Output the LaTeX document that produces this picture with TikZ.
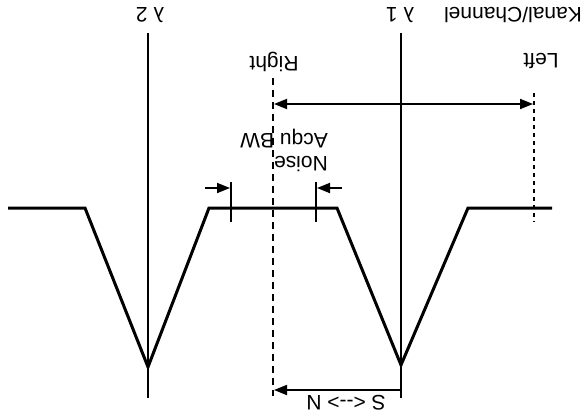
\documentclass[tikz,border=0pt]{standalone}
\usepackage{fontspec}
\setmainfont{Liberation Sans}
\usetikzlibrary{arrows.meta}

\begin{document}
\begin{tikzpicture}[
  x=1pt, y=-1pt,
  font=\fontsize{21}{23}\selectfont,
  lbl/.style={rotate=180, inner sep=0pt},
  wave/.style={draw=black, line width=3pt, line join=miter},
  lambda/.style={draw=black, line width=1.3pt},
  rightcut/.style={draw=black, line width=2.6pt, dash pattern=on 7pt off 5pt},
  leftcut/.style={draw=black, line width=1.5pt, dash pattern=on 4pt off 4pt},
  tick/.style={draw=black, line width=1.7pt},
  arr/.style={draw=black, line width=1.8pt, -{Triangle[length=13pt, width=10pt]}},
  darr/.style={arr, {Triangle[length=13pt, width=10pt]}-{Triangle[length=13pt, width=10pt]}}
]
\useasboundingbox (0,0) rectangle (585,415);

% lambda lines
\coordinate (l2top) at (148,33);
\coordinate (l2bot) at (148,398);
\coordinate (l1top) at (401,33);
\coordinate (l1bot) at (401,398);
\draw[lambda] (l2top) -- (l2bot);
\draw[lambda] (l1top) -- (l1bot);

% channel edges
\coordinate (rtop) at (273,78);
\coordinate (rbot) at (273,396);
\coordinate (ltop) at (534,93);
\coordinate (lbot) at (534,222);
\draw[rightcut] (rtop) -- (rbot);
\draw[leftcut] (ltop) -- (lbot);

% filter curve
\draw[wave] (8,208) -- (85,208) -- (148,367) -- (209,208) -- (337,208)
  -- (401,365) -- (468,208) -- (552,208);

% noise bandwidth marks
\coordinate (t1top) at (231,182);
\coordinate (t1bot) at (231,222);
\coordinate (t2top) at (316,182);
\coordinate (t2bot) at (316,222);
\draw[tick] (t1top) -- (t1bot);
\draw[tick] (t2top) -- (t2bot);
\coordinate (a1) at (205,188);
\coordinate (a1e) at (230,188);
\coordinate (a2) at (342,188);
\coordinate (a2e) at (317,188);
\draw[arr] (a1) -- (a1e);
\draw[arr] (a2) -- (a2e);

% channel span and S/N offset
\coordinate (spanR) at (274,104);
\coordinate (spanL) at (533,104);
\draw[darr] (spanR) -- (spanL);
\coordinate (snA) at (401,390);
\coordinate (snB) at (274,390);
\draw[arr] (snA) -- (snB);

% labels
\node[lbl] (lam2) at (150,15) {λ 2};
\node[lbl] (lam1) at (400,15) {λ 1};
\node[lbl] (chan) at (513,15) {Kanal/Channel};
\node[lbl] (left) at (541,61) {Left};
\node[lbl] (right) at (274,62) {Right};
\node[lbl, align=left] (nbw) at (284,150) {Noise\\Acqu BW};
\node[lbl] (sn) at (346,403) {S <-{}-> N};

\end{tikzpicture}
\end{document}
